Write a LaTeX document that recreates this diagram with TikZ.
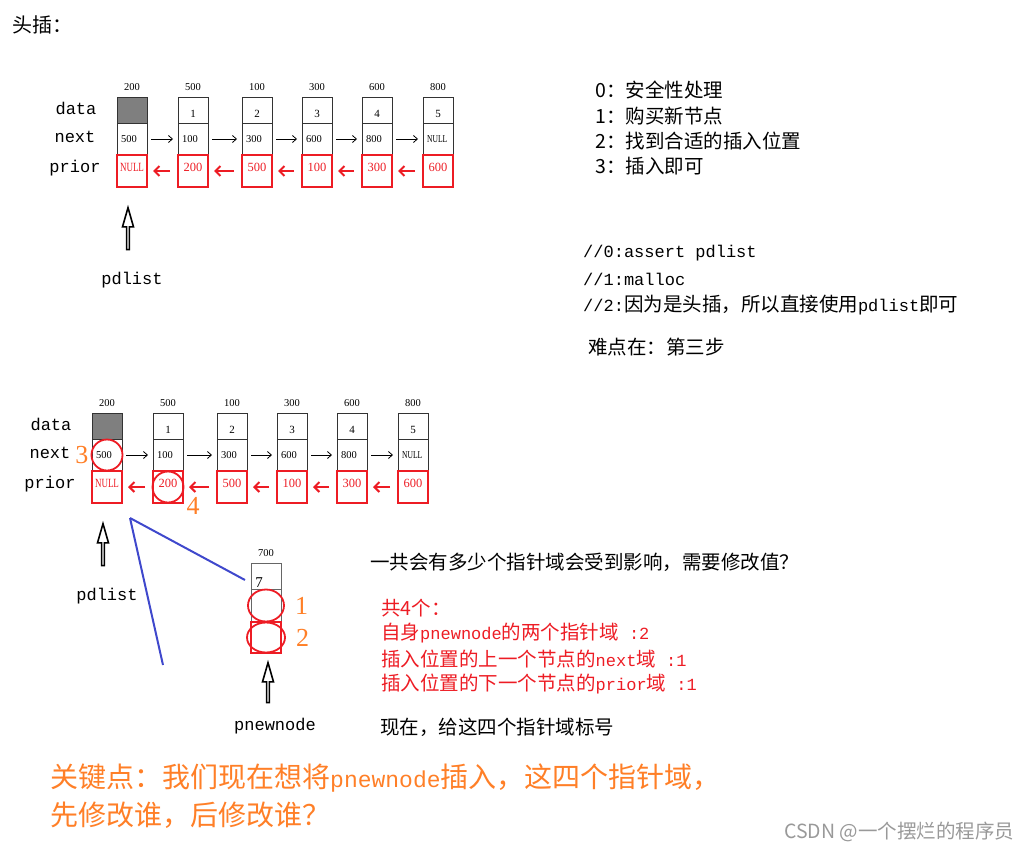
\documentclass[tikz,border=0pt]{standalone}
\usepackage{fontspec}
\setmainfont{Noto Sans CJK SC}
\newfontfamily\monofont{Liberation Mono}
\newfontfamily\numfont{Liberation Serif}
\usetikzlibrary{arrows.meta,shapes.arrows,shapes.geometric,positioning}

\definecolor{lred}{HTML}{ED1C24}
\definecolor{lorange}{HTML}{FF7F27}
\definecolor{lblue}{HTML}{3F48CC}
\definecolor{dgray}{HTML}{7F7F7F}

\newcommand\asc[1]{{\monofont\fontsize{17}{17}\selectfont #1}}
\newcommand\nulltxt{\scalebox{0.72}[1]{NULL}}

\tikzset{
  cell/.style={draw=black!80, line width=0.8pt, minimum width=30pt, inner sep=0pt, outer sep=0pt},
  pcell/.style={draw=lred, line width=1.8pt, minimum width=30pt, minimum height=32pt, inner sep=0pt, outer sep=0pt},
  lab/.style={font=\monofont\fontsize{17}{17}\selectfont, inner sep=0pt},
  adr/.style={font=\numfont\fontsize{10.5}{10.5}\selectfont, inner sep=0pt},
  dnum/.style={font=\numfont\fontsize{11}{11}\selectfont, inner sep=0pt},
  nval/.style={font=\numfont\fontsize{10.5}{10.5}\selectfont, inner sep=0pt, anchor=west},
  pval/.style={font=\numfont\fontsize{12.5}{12.5}\selectfont, text=lred, inner sep=0pt},
  tag/.style={font=\numfont\fontsize{26}{26}\selectfont, text=lorange, inner sep=0pt},
  txt/.style={font=\fontsize{19.5}{19.5}\selectfont, anchor=west, inner sep=0pt},
  ring/.style={draw=lred, line width=1.8pt, inner sep=0pt},
  ptr/.style={single arrow, draw, line width=1.6pt, rotate=90, minimum height=42pt,
    minimum width=11pt, single arrow head extend=2.5pt, single arrow tip angle=32, inner sep=0pt},
  nxtarrow/.style={line width=0.8pt, -{Straight Barb[length=4pt,width=7pt]}},
  prvarrow/.style={draw=lred, line width=2pt, -{Straight Barb[length=5pt,width=10pt]}},
  ptrline/.style={draw=lblue, line width=2pt}
}

\begin{document}
\begin{tikzpicture}[x=1pt, y=-1pt]
  \useasboundingbox (0,0) rectangle (1032,851);

  % Title
  \node[txt, font=\fontsize{20}{20}\selectfont] (title) at (12,25) {头插：};

  % The list, drawn twice (before / while inserting)
  \foreach \L/\dx/\dy in {t/0/0, b/-25/316} {
    \begin{scope}[shift={(\dx,\dy)}]
      \node[lab] (\L-ldata) at (76,108) {data};
      \node[lab] (\L-lnext) at (75,137) {next};
      \node[lab] (\L-lprior) at (75,168) {prior};

      \foreach \i/\x/\adr/\fc/\dat/\nxt/\pri in {1/117/200/dgray/{}/500/\nulltxt,
          2/178/500/white/1/100/200, 3/242/100/white/2/300/500, 4/302/300/white/3/600/100,
          5/362/600/white/4/800/300, 6/423/800/white/5/\nulltxt/600} {
        \node[cell, fill=\fc, minimum height=26pt, anchor=north west] (\L-d\i) at (\x,97) {};
        \node[cell, minimum height=32pt, below=0pt of \L-d\i] (\L-n\i) {};
        \node[pcell, below=0pt of \L-n\i] (\L-p\i) {};
        \node[adr, above=6pt of \L-d\i] (\L-a\i) {\adr};
        \node[dnum] (\L-v\i) at ([yshift=-17pt]\L-d\i.north) {\dat};
        \node[nval] (\L-x\i) at ([xshift=4pt]\L-n\i.west) {\nxt};
        \node[pval] (\L-q\i) at ([yshift=-12pt]\L-p\i.north) {\pri};
      }

      \foreach \i/\j in {1/2,2/3,3/4,4/5,5/6} {
        \draw[nxtarrow] ([xshift=4pt]\L-n\i.east) -- ([xshift=-5pt]\L-n\j.west);
        \draw[prvarrow] ([xshift=-8pt]\L-p\j.west) -- ([xshift=6pt]\L-p\i.east);
      }

      % head pointer
      \node[ptr] (\L-ptr) at (128,231) {};
      \node[lab] (\L-head) at (132,280) {pdlist};
    \end{scope}
  }

  % New node
  \node[cell, draw=black!60, minimum height=26pt, anchor=north west] (n-d) at (251,563) {};
  \node[cell, draw=black!60, minimum height=33pt, below=0pt of n-d] (n-n) {};
  \node[pcell, minimum height=31pt, below=0pt of n-n] (n-p) {};
  \node[adr, above=6pt of n-d] (n-a) {700};
  \node[dnum, font=\numfont\fontsize{15}{15}\selectfont] (n-v) at (259,583) {7};
  \node[ptr, minimum height=40pt] (n-ptr) at (268,685) {};
  \node[lab] (n-head) at (275,726) {pnewnode};

  % Blue pointer lines
  \coordinate (apex) at (130,518);
  \coordinate (bl1) at (245,580);
  \coordinate (bl2) at (163,665);
  \draw[ptrline] (apex) -- (bl1);
  \draw[ptrline] (apex) -- (bl2);

  % The four pointer fields
  \node[ring, ellipse, minimum width=36pt, minimum height=32pt] (c1) at (n-n.center) {};
  \node[ring, ellipse, minimum width=38pt, minimum height=30pt] (c2) at (n-p.center) {};
  \node[ring, circle, minimum size=31pt] (c3) at (b-n1.center) {};
  \node[ring, circle, minimum size=31pt] (c4) at (b-p2.center) {};
  \node[tag, right=10pt of c1] (t1) {1};
  \node[tag, right=10pt of c2] (t2) {2};
  \node[tag, left=2pt of c3] (t3) {3};
  \node[tag] (t4) at (193,506) {4};

  % Steps
  \node[txt] (s0) at (595,90) {0：安全性处理};
  \node[txt] (s1) at (595,116) {1：购买新节点};
  \node[txt] (s2) at (595,141) {2：找到合适的插入位置};
  \node[txt] (s3) at (595,166) {3：插入即可};

  \node[txt] (k0) at (583,253) {\asc{//0:assert pdlist}};
  \node[txt] (k1) at (583,279) {\asc{//1:malloc}};
  \node[txt] (k2) at (583,305) {\asc{//2:}因为是头插，所以直接使用\asc{pdlist}即可};
  \node[txt] (hard) at (588,347) {难点在：第三步};

  % Question and answer
  \node[txt] (ask) at (370,562) {一共会有多少个指针域会受到影响，需要修改值？};
  \node[txt, text=lred] (a0) at (381,608) {共4个：};
  \node[txt, text=lred] (a1) at (381,633) {自身\asc{pnewnode}的两个指针域\asc{ :2}};
  \node[txt, text=lred] (a2) at (381,659) {插入位置的上一个节点的\asc{next}域\asc{ :1}};
  \node[txt, text=lred] (a3) at (381,684) {插入位置的下一个节点的\asc{prior}域\asc{ :1}};
  \node[txt] (now) at (380,727) {现在，给这四个指针域标号};

  % Key point
  \node[txt, text=lorange, font=\fontsize{28}{28}\selectfont] (key1) at (50,778)
    {关键点：我们现在想将{\monofont\fontsize{23}{23}\selectfont pnewnode}插入，这四个指针域，};
  \node[txt, text=lorange, font=\fontsize{28}{28}\selectfont] (key2) at (50,815) {先修改谁，后修改谁？};

  \node[txt, text=black!40, font=\fontsize{19.5}{19.5}\selectfont] (wm) at (784,832) {CSDN @一个摆烂的程序员};
\end{tikzpicture}
\end{document}
